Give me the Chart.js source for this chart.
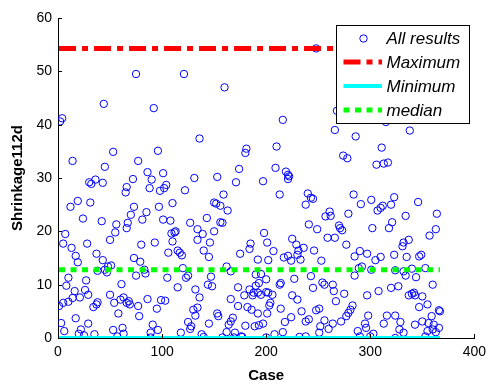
<!DOCTYPE html>
<html>
<head>
<meta charset="utf-8">
<script src="https://cdn.jsdelivr.net/npm/chart.js@4.4.0/dist/chart.umd.min.js"></script>
<style>
  html, body { margin: 0; padding: 0; background: #fff; }
</style>
</head>
<body>
<canvas id="shrinkChart" width="492" height="385"></canvas>
<script>
// case number and measured shrinkage for every result
const caseNo = [
  1, 2, 3, 4, 5, 5, 6, 7, 8, 10,
  10, 12, 13, 14, 14, 16, 17, 17, 19, 19,
  20, 21, 22, 24, 25, 26, 27, 28, 29, 29,
  30, 31, 32, 34, 35, 36, 37, 37, 38, 38,
  42, 43, 43, 44, 45, 45, 47, 48, 50, 50,
  51, 53, 53, 54, 55, 56, 57, 58, 60, 61,
  62, 63, 63, 65, 66, 66, 66, 67, 68, 69,
  70, 72, 73, 73, 75, 75, 77, 77, 78, 79,
  80, 81, 83, 84, 85, 86, 86, 88, 89, 89,
  90, 91, 92, 93, 95, 96, 96, 97, 98, 99,
  101, 101, 102, 103, 104, 105, 106, 108, 109, 110,
  110, 112, 113, 115, 115, 117, 118, 119, 120, 121,
  122, 123, 125, 125, 127, 127, 128, 130, 131, 132,
  132, 134, 134, 134, 136, 136, 138, 139, 140, 140,
  143, 144, 145, 145, 146, 147, 148, 150, 150, 152,
  153, 153, 154, 156, 156, 158, 158, 159, 160, 162,
  162, 163, 164, 166, 166, 166, 168, 169, 170, 171,
  173, 173, 174, 175, 176, 177, 179, 180, 180, 181,
  182, 184, 184, 185, 186, 187, 188, 189, 190, 190,
  192, 192, 192, 193, 193, 195, 195, 197, 197, 198,
  200, 200, 200, 201, 201, 202, 202, 203, 204, 206,
  207, 208, 209, 210, 213, 213, 214, 214, 216, 216,
  217, 218, 219, 221, 221, 221, 222, 224, 224, 225,
  225, 227, 229, 230, 230, 231, 232, 233, 234, 236,
  238, 238, 238, 240, 241, 241, 243, 243, 245, 245,
  246, 248, 248, 249, 251, 251, 252, 253, 254, 256,
  256, 257, 259, 260, 261, 262, 264, 264, 265, 266,
  268, 266, 267, 270, 271, 272, 273, 274, 275, 277,
  277, 278, 279, 279, 281, 283, 284, 285, 285, 286,
  288, 289, 290, 290, 291, 292, 295, 296, 297, 297,
  298, 300, 301, 301, 302, 303, 305, 306, 307, 308,
  310, 310, 311, 312, 313, 313, 315, 316, 317, 318,
  320, 320, 321, 323, 323, 324, 324, 324, 327, 328,
  329, 331, 332, 332, 332, 334, 334, 335, 337, 337,
  338, 340, 340, 342, 343, 343, 344, 346, 347, 347,
  349, 350, 350, 353, 353, 355, 355, 356, 357, 359,
  360, 360, 361, 363, 363, 364, 366, 366, 367
];
const shrinkage = [
  6.0, 40.6, 2.8, 41.2, 17.7, 6.6, 1.3, 19.5, 9.8, 11.3,
  6.8, 24.6, 16.9, 33.2, 7.5, 8.8, 15.4, 3.7, 25.7, 14.2,
  0.8, 7.6, 1.6, 22.4, 0.5, 9.0, 10.8, 17.7, 8.1, 2.7,
  29.2, 25.4, 28.9, 5.8, 0.7, 29.7, 15.8, 6.3, 12.6, 6.7,
  21.9, 29.1, 14.6, 43.9, 32.1, 12.8, 12.3, 13.4, 18.4, 8.1,
  13.6, 34.9, 1.5, 6.6, 19.8, 21.3, 0.3, 4.6, 7.2, 10.1,
  1.9, 7.6, 0.8, 27.3, 28.3, 20.6, 6.6, 21.6, 6.9, 6.3,
  23.1, 29.8, 24.6, 15.0, 49.5, 11.7, 33.2, 6.0, 4.1, 14.3,
  17.5, 22.2, 12.8, 12.1, 23.6, 31.1, 7.3, 28.1, 1.0, 0.1,
  29.7, 2.5, 43.1, 17.9, 5.5, 35.1, 1.5, 24.6, 27.6, 7.1,
  30.9, 22.2, 28.1, 7.0, 28.7, 11.3, 16.0, 22.0, 19.6, 25.3,
  18.1, 19.8, 20.0, 16.4, 9.5, 16.0, 1.0, 15.5, 13.1, 49.5,
  27.7, 11.3, 11.7, 3.0, 21.6, 1.7, 2.2, 5.3, 30.0, 9.1,
  4.2, 20.4, 18.4, 5.7, 37.4, 7.6, 0.7, 19.5, 16.4, 0.2,
  22.5, 10.0, 15.2, 2.7, 17.9, 11.5, 9.7, 25.4, 20.0, 25.2,
  30.2, 4.6, 4.1, 24.8, 21.7, 21.6, 0.1, 26.9, 47.0, 13.4,
  1.1, 23.9, 2.5, 12.5, 7.3, 3.1, 3.8, 0.1, 1.0, 29.2,
  9.5, 6.0, 31.7, 15.8, 0.3, 0.2, 8.0, 34.7, 2.3, 35.5,
  5.8, 16.7, 9.1, 17.7, 5.3, 8.0, 8.5, 2.2, 11.9, 9.8,
  14.7, 8.5, 4.6, 10.3, 2.4, 12.0, 8.1, 29.4, 2.7, 19.7,
  8.6, 0.1, 11.0, 17.9, 4.6, 14.6, 8.5, 6.1, 6.6, 8.1,
  16.3, 0.7, 31.9, 35.9, 26.9, 10.0, 10.3, 5.5, 40.9, 1.1,
  15.1, 3.0, 31.2, 30.6, 29.8, 15.4, 30.3, 14.5, 3.9, 18.6,
  8.0, 11.1, 17.5, 15.6, 7.2, 16.4, 0.2, 14.7, 5.0, 16.9,
  25.0, 3.1, 0.3, 27.1, 21.3, 3.5, 26.3, 11.6, 26.1, 9.4,
  16.4, 54.3, 5.2, 20.4, 5.5, 1.0, 2.2, 14.5, 10.4, 10.0,
  3.3, 22.8, 18.8, 1.7, 23.7, 22.9, 10.0, 2.7, 8.8, 39.0,
  42.6, 18.8, 6.9, 21.1, 20.6, 3.1, 20.2, 34.2, 8.3, 17.5,
  4.1, 33.7, 23.3, 4.7, 5.3, 6.1, 26.9, 15.3, 11.7, 37.8,
  1.3, 13.1, 16.3, 0.3, 25.1, 13.4, 2.7, 1.9, 15.8, 8.0,
  4.2, 0.3, 25.9, 12.8, 20.6, 0.8, 14.6, 32.5, 23.9, 8.8,
  24.4, 15.2, 35.7, 24.8, 32.7, 2.7, 40.5, 4.2, 32.9, 20.6,
  25.0, 9.4, 21.7, 26.4, 15.6, 12.7, 4.2, 0.0, 9.7, 1.6,
  3.0, 17.2, 17.9, 1.0, 12.5, 22.9, 11.7, 15.2, 8.0, 18.4,
  38.9, 13.0, 8.3, 8.5, 8.0, 2.5, 11.4, 25.5, 15.3, 5.8,
  15.6, 7.8, 3.1, 13.1, 0.3, 6.3, 1.3, 2.8, 19.2, 4.1,
  10.0, 1.6, 2.5, 20.4, 1.1, 23.3, 5.2, 1.9, 5.0
];

// summary lines
const maxValue = 54.3;
const minValue = 0;
const medianValue = 12.8;
const firstCase = 1;
const lastCase = 367;

const xTicks = [0, 100, 200, 300, 400];
const yTicks = [0, 10, 20, 30, 40, 50, 60];
const legendLabels = ['All results', 'Maximum', 'Minimum', 'median'];

const FONT = '"Liberation Sans", Arial, sans-serif';

const points = caseNo.map((c, i) => ({ x: c, y: shrinkage[i] }));
const hline = v => [{ x: firstCase, y: v }, { x: lastCase, y: v }];

// small inward tick marks on the left and bottom axes
const innerTicks = {
  id: 'innerTicks',
  afterDraw(chart) {
    const { ctx, chartArea: a, scales: { x, y } } = chart;
    ctx.save();
    ctx.strokeStyle = '#000';
    ctx.lineWidth = 1;
    ctx.beginPath();
    xTicks.forEach(t => {
      const px = Math.round(x.getPixelForValue(t)) + 0.5;
      ctx.moveTo(px, a.bottom);
      ctx.lineTo(px, a.bottom - 4);
    });
    yTicks.forEach(t => {
      const py = Math.round(y.getPixelForValue(t)) + 0.5;
      ctx.moveTo(a.left, py);
      ctx.lineTo(a.left + 4, py);
    });
    ctx.stroke();
    ctx.restore();
  }
};

// boxed legend in the upper right of the plot
const boxLegend = {
  id: 'boxLegend',
  afterDraw(chart) {
    const { ctx } = chart;
    const ds = chart.data.datasets;
    const bx = 336.5, by = 25.5, bw = 133, bh = 98;
    ctx.save();
    ctx.fillStyle = '#fff';
    ctx.fillRect(bx, by, bw, bh);
    ctx.strokeStyle = '#000';
    ctx.lineWidth = 1;
    ctx.strokeRect(bx, by, bw, bh);
    const rows = [38.5, 62, 86, 110];
    ds.forEach((d, i) => {
      const ry = rows[i];
      if (i === 0) {
        ctx.beginPath();
        ctx.arc(363.5, ry, d.pointRadius, 0, Math.PI * 2);
        ctx.strokeStyle = d.borderColor;
        ctx.lineWidth = d.borderWidth;
        ctx.stroke();
      } else {
        ctx.beginPath();
        ctx.setLineDash(d.borderDash || []);
        ctx.strokeStyle = d.borderColor;
        ctx.lineWidth = d.borderWidth;
        ctx.moveTo(343.5, ry);
        ctx.lineTo(382, ry);
        ctx.stroke();
        ctx.setLineDash([]);
      }
      ctx.fillStyle = '#000';
      ctx.font = 'italic 17px ' + FONT;
      ctx.textBaseline = 'middle';
      ctx.fillText(d.label, 386.5, ry + 1);
    });
    ctx.restore();
  }
};

new Chart(document.getElementById('shrinkChart'), {
  type: 'scatter',
  data: {
    datasets: [
      {
        label: legendLabels[0],
        data: points,
        pointStyle: 'circle',
        pointRadius: 3.7,
        pointHoverRadius: 3.7,
        borderColor: '#0000ff',
        backgroundColor: 'rgba(0,0,0,0)',
        borderWidth: 1,
        order: 4
      },
      {
        label: legendLabels[1],
        type: 'line',
        data: hline(maxValue),
        borderColor: '#ff0000',
        borderWidth: 5,
        borderDash: [17, 6, 6, 6],
        pointRadius: 0,
        order: 3
      },
      {
        label: legendLabels[2],
        type: 'line',
        data: hline(minValue),
        borderColor: '#00ffff',
        borderWidth: 4,
        pointRadius: 0,
        order: 2
      },
      {
        label: legendLabels[3],
        type: 'line',
        data: hline(medianValue),
        borderColor: '#00ff00',
        borderWidth: 5,
        borderDash: [6, 5.5],
        pointRadius: 0,
        order: 1
      }
    ]
  },
  options: {
    responsive: false,
    animation: false,
    layout: { padding: { top: 18, right: 16, left: 0, bottom: 0 } },
    plugins: {
      legend: { display: false },
      tooltip: { enabled: false }
    },
    scales: {
      x: {
        type: 'linear',
        min: 0,
        max: 400,
        afterFit: s => { s.height = 47; },
        afterBuildTicks: s => { s.ticks = xTicks.map(v => ({ value: v })); },
        grid: { drawOnChartArea: false, drawTicks: false },
        border: { color: '#000', width: 1 },
        ticks: { color: '#000', padding: 6, maxRotation: 0, font: { family: FONT, size: 14 } },
        title: {
          display: true,
          text: 'Case',
          color: '#000',
          padding: { bottom: 0 },
          font: { family: FONT, size: 15, weight: 'bold' }
        }
      },
      y: {
        type: 'linear',
        min: 0,
        max: 60,
        afterFit: s => { s.width = 58; },
        afterBuildTicks: s => { s.ticks = yTicks.map(v => ({ value: v })); },
        grid: { drawOnChartArea: false, drawTicks: false },
        border: { color: '#000', width: 1 },
        ticks: { color: '#000', padding: 6, font: { family: FONT, size: 14 } },
        title: {
          display: true,
          text: 'Shrinkage112d',
          color: '#000',
          padding: { top: 9 },
          font: { family: FONT, size: 15, weight: 'bold' }
        }
      }
    }
  },
  plugins: [innerTicks, boxLegend]
});
</script>
</body>
</html>
